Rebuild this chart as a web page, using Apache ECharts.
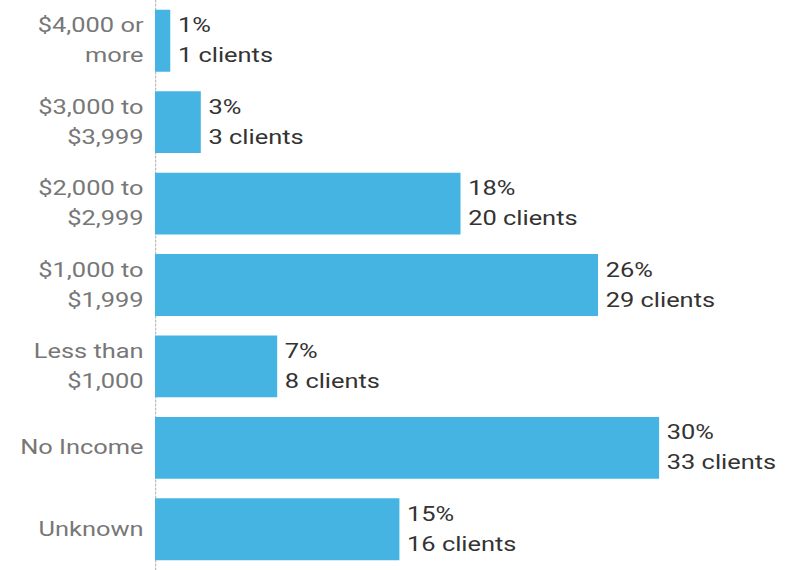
<!DOCTYPE html>
<html>
<head>
<meta charset="utf-8">
<script src="https://cdn.jsdelivr.net/npm/echarts@6/dist/echarts.min.js"></script>
<style>
  html, body { margin: 0; padding: 0; background: #fff; overflow: hidden; }
  #wrap { width: 794px; height: 570px; overflow: hidden; }
  #chart { width: 625px; height: 570px; transform: scaleX(1.2704); transform-origin: 0 0; }
</style>
</head>
<body>
<div id="wrap"><div id="chart"></div></div>
<script>
// Monthly household income brackets, top to bottom
const categories = [
  '$4,000 or\nmore',
  '$3,000 to\n$3,999',
  '$2,000 to\n$2,999',
  '$1,000 to\n$1,999',
  'Less than\n$1,000',
  'No Income',
  'Unknown'
];
// Number of clients in each bracket
const clients = [1, 3, 20, 29, 8, 33, 16];
// Share of all clients, in percent
const percents = [1, 3, 18, 26, 7, 30, 15];

const chart = echarts.init(document.getElementById('chart'), null, { renderer: 'svg' });

chart.setOption({
  animation: false,
  textStyle: { fontFamily: 'Roboto' },
  grid: { left: 122, right: 22, top: -2.4, bottom: -2.6 },
  xAxis: {
    type: 'value',
    min: 0,
    max: 40,
    show: false
  },
  yAxis: {
    type: 'category',
    data: categories,
    inverse: true,
    axisTick: { show: false },
    axisLine: {
      show: true,
      lineStyle: { color: '#bdbdbd', width: 1, type: [2, 2] }
    },
    axisLabel: {
      margin: 9,
      fontFamily: 'Roboto',
      fontSize: 20,
      lineHeight: 30,
      color: '#777777',
      align: 'right'
    }
  },
  series: [{
    type: 'bar',
    data: clients,
    barCategoryGap: '24%',
    itemStyle: { color: '#45b4e3' },
    label: {
      show: true,
      position: 'right',
      distance: 6,
      fontFamily: 'Roboto',
      fontSize: 20,
      lineHeight: 30,
      color: '#333333',
      formatter: p => percents[p.dataIndex] + '%\n' + clients[p.dataIndex] + ' clients'
    }
  }]
});
</script>
</body>
</html>
